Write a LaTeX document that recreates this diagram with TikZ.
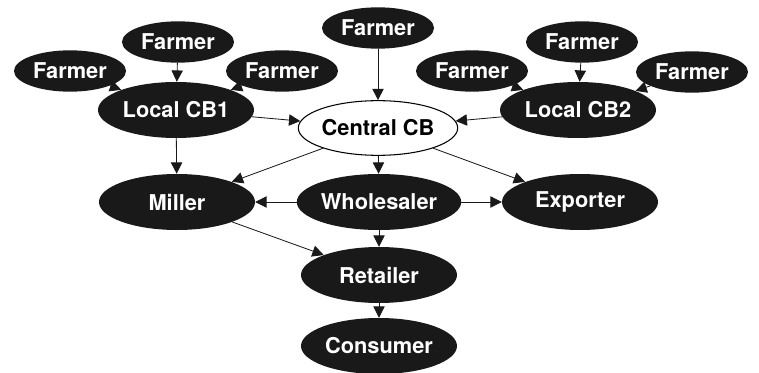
\documentclass[tikz,border=0pt]{standalone}
\usepackage{fontspec}
\setmainfont{TeX Gyre Heros}
\usetikzlibrary{shapes.geometric,arrows.meta}
\begin{document}
\begin{tikzpicture}[x=0.03cm,y=-0.03cm,line cap=round,line join=round,
	>={Triangle[length=3.4mm,width=3.4mm]},
	font=\fontsize{18.6}{21}\selectfont\bfseries,
	farmer/.style={ellipse,fill=black!90,text=white,inner sep=0pt,minimum width=3.36cm,minimum height=1.24cm},
	agent/.style={ellipse,fill=black!90,text=white,inner sep=0pt,minimum width=4.68cm,minimum height=1.68cm},
	hub/.style={ellipse,draw=black,fill=white,line width=0.9pt,inner sep=0pt,minimum width=4.62cm,minimum height=1.64cm},
	link/.style={->,line width=0.7pt,black!90}]
	\useasboundingbox (0,0) rectangle (759,373);
	% farmers
	\foreach \x/\y/\n in {70/71/fa,178/42/fb,282/71/fc,472/71/fd,582/42/fe,692/72/ff,378/28/fg}
	\node[farmer] (\n) at (\x,\y) {Farmer};
	% collection and trade
	\node[agent] (cb1) at (176,110) {Local CB1};
	\node[agent] (cb2) at (578,110) {Local CB2};
	\node[hub] (ccb) at (378,128) {Central CB};
	\node[agent] (mil) at (177,202) {Miller};
	\node[agent] (whs) at (379,202) {Wholesaler};
	\node[agent] (exp) at (580,202) {Exporter};
	\node[agent] (ret) at (379,275) {Retailer};
	\node[agent] (con) at (379,346) {Consumer};
	\foreach \n in {fa,fb,fc}
	\draw[link] (\n) -- (cb1);
	\foreach \n in {fd,fe,ff}
	\draw[link] (\n) -- (cb2);
	\draw[link] (fg) -- (ccb);
	\draw[link] (cb1) -- (ccb);
	\draw[link] (cb2) -- (ccb);
	\draw[link] (cb1) -- (mil);
	\foreach \n in {mil,whs,exp}
	\draw[link] (ccb) -- (\n);
	\foreach \n in {mil,exp,ret}
	\draw[link] (whs) -- (\n);
	\draw[link] (mil) -- (ret);
	\draw[link] (ret) -- (con);
\end{tikzpicture}
\end{document}
